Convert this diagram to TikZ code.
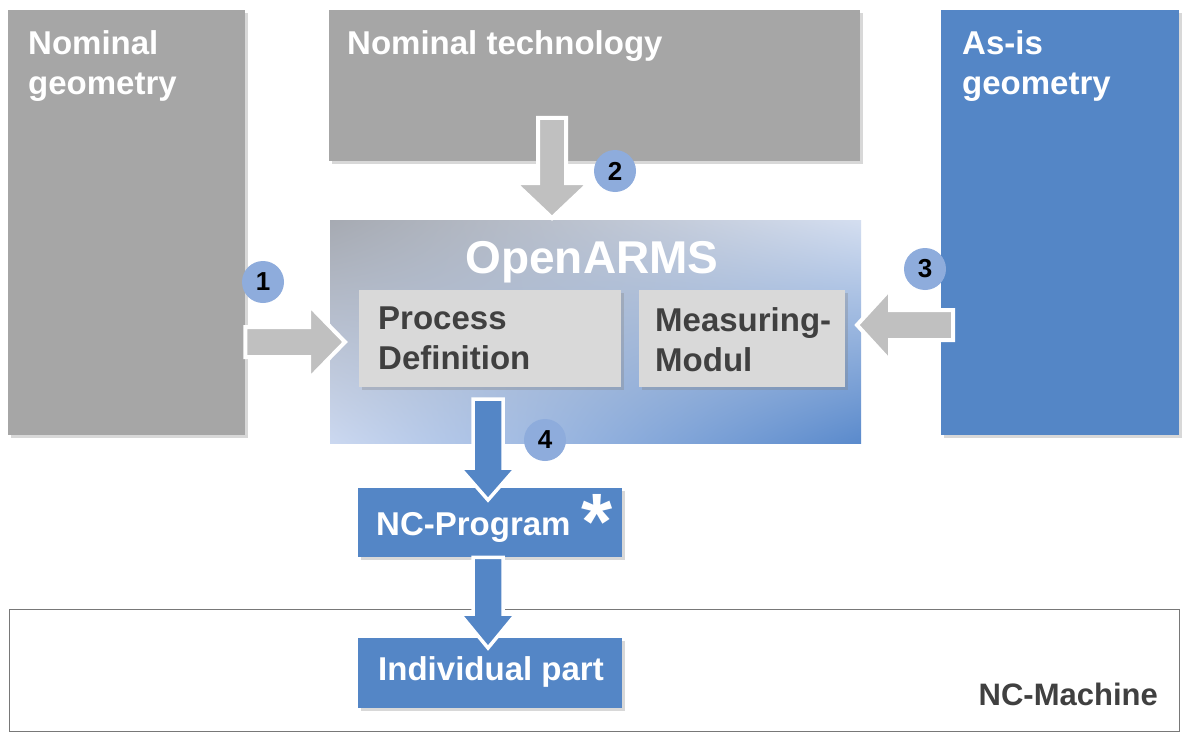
\documentclass[tikz,border=0pt]{standalone}
\usepackage{fontspec}
\setmainfont{Liberation Sans}
\usetikzlibrary{calc,shadows,shadings}
\definecolor{boxgrey}{RGB}{166,166,166}
\definecolor{boxblue}{RGB}{84,134,198}
\definecolor{innergrey}{RGB}{217,217,217}
\definecolor{dtext}{RGB}{64,64,64}
\definecolor{circblue}{RGB}{142,172,220}
\definecolor{arrgrey}{RGB}{192,192,192}
\definecolor{shUL}{RGB}{166,170,178}
\definecolor{shUR}{RGB}{212,222,240}
\definecolor{shLL}{RGB}{203,216,240}
\definecolor{shLR}{RGB}{90,138,204}
\definecolor{framegrey}{RGB}{120,120,120}
% block arrows: style, from, to, shaft half width, head half width, head length
\newcommand\ArrR[6]{\draw[#1] ($(#2)+(0,-#4)$) -- ($(#3)+(-#6,-#4)$) -- ($(#3)+(-#6,-#5)$) -- (#3) -- ($(#3)+(-#6,#5)$) -- ($(#3)+(-#6,#4)$) -- ($(#2)+(0,#4)$) -- cycle;}
\newcommand\ArrL[6]{\draw[#1] ($(#2)+(0,-#4)$) -- ($(#3)+(#6,-#4)$) -- ($(#3)+(#6,-#5)$) -- (#3) -- ($(#3)+(#6,#5)$) -- ($(#3)+(#6,#4)$) -- ($(#2)+(0,#4)$) -- cycle;}
\newcommand\ArrD[6]{\draw[#1] ($(#2)+(-#4,0)$) -- ($(#3)+(-#4,-#6)$) -- ($(#3)+(-#5,-#6)$) -- (#3) -- ($(#3)+(#5,-#6)$) -- ($(#3)+(#4,-#6)$) -- ($(#2)+(#4,0)$) -- cycle;}
\begin{document}
\begin{tikzpicture}[x=1pt,y=-1pt,
  bigbox/.style={rectangle, inner sep=0pt, anchor=north west, draw=none,
     drop shadow={shadow xshift=3pt,shadow yshift=-3pt,opacity=.3}},
  lbl/.style={inner sep=0pt, anchor=north west, align=left, text=white,
     font=\bfseries\fontsize{33}{40}\selectfont},
  dlbl/.style={lbl, text=dtext},
  garrow/.style={fill=arrgrey, draw=white, line width=4pt, line join=miter},
  barrow/.style={fill=boxblue, draw=white, line width=3.5pt, line join=miter},
  numc/.style={circle, fill=circblue, minimum size=42pt, inner sep=0pt,
     font=\bfseries\fontsize{26}{26}\selectfont, text=black}
]
\useasboundingbox[fill=white] (0,0) rectangle (1182,733);

% NC-Machine frame
\node[draw=framegrey, line width=1.2pt, rectangle, inner sep=0pt, anchor=north west,
  minimum width=1170pt, minimum height=122pt] (ncm) at (9,609) {};
\node[inner sep=0pt, anchor=north east, text=dtext,
  font=\bfseries\fontsize{31}{36}\selectfont] (ncmT) at (1158,683) {NC-Machine};

% top boxes
\node[bigbox, fill=boxgrey, minimum width=237pt, minimum height=425pt] (nomgeo) at (8,10) {};
\node[lbl] (nomgeoT) at (28,30) {Nominal\\geometry};
\node[bigbox, fill=boxgrey, minimum width=531pt, minimum height=151pt] (nomtech) at (329,10) {};
\node[lbl] (nomtechT) at (347,30) {Nominal technology};
\node[bigbox, fill=boxblue, minimum width=238pt, minimum height=425pt] (asis) at (941,10) {};
\node[lbl] (asisT) at (962,30) {As-is\\geometry};

% OpenARMS
\shade[upper left=shUL, upper right=shUR, lower left=shLL, lower right=shLR]
  (330,220) rectangle (861,443);
\node[inner sep=0pt, minimum width=531pt, minimum height=223pt, anchor=north west] (oa) at (330,220) {};
\node[inner sep=0pt, anchor=north, text=white,
  font=\bfseries\fontsize{46}{50}\selectfont] (oaT) at (592,241) {OpenARMS};
\node[bigbox, fill=innergrey, minimum width=262pt, minimum height=97pt] (proc) at (359,290) {};
\node[dlbl] (procT) at (378,307) {Process\\Definition};
\node[bigbox, fill=innergrey, minimum width=206pt, minimum height=97pt] (meas) at (639,290) {};
\node[dlbl] (measT) at (655,307) {Measuring-\\Modul};

% lower boxes
\node[bigbox, fill=boxblue, minimum width=264pt, minimum height=69pt] (ncp) at (358,488) {};
\node[inner sep=0pt, anchor=base west, text=white,
  font=\bfseries\fontsize{33}{36}\selectfont] (ncpT) at (376,535) {NC-Program};
\node[inner sep=0pt, anchor=north, text=white,
  font=\bfseries\fontsize{80}{80}\selectfont] (star) at (597,494) {*};
\node[bigbox, fill=boxblue, minimum width=264pt, minimum height=70pt] (part) at (358,638) {};
\node[inner sep=0pt, anchor=base, text=white,
  font=\bfseries\fontsize{33}{36}\selectfont] (partT) at (491,680) {Individual part};

% arrows
\coordinate (a1s) at (nomgeo.east |- 0,342);
\coordinate (a1e) at (345,342);
\coordinate (a2s) at (552,118);
\coordinate (a2e) at (552,218);
\coordinate (a3s) at (953,325);
\coordinate (a3e) at (857,325);
\coordinate (a4s) at (488,399);
\coordinate (a4e) at (488,500);
\coordinate (a5s) at (ncp.south -| 488,0);
\coordinate (a5e) at (488,648);
\ArrR{garrow}{a1s}{a1e}{15}{37}{36}
\ArrD{garrow}{a2s}{a2e}{14}{37}{35}
\ArrL{garrow}{a3s}{a3e}{15}{36}{33}
\ArrD{barrow}{a4s}{a4e}{15}{28}{32}
\ArrD{barrow}{a5s}{a5e}{15}{28}{34}

% numbers
\node[numc] (c1) at (263,282) {1};
\node[numc] (c2) at (615,171) {2};
\node[numc] (c3) at (925,269) {3};
\node[numc] (c4) at (545,440) {4};
\end{tikzpicture}
\end{document}
